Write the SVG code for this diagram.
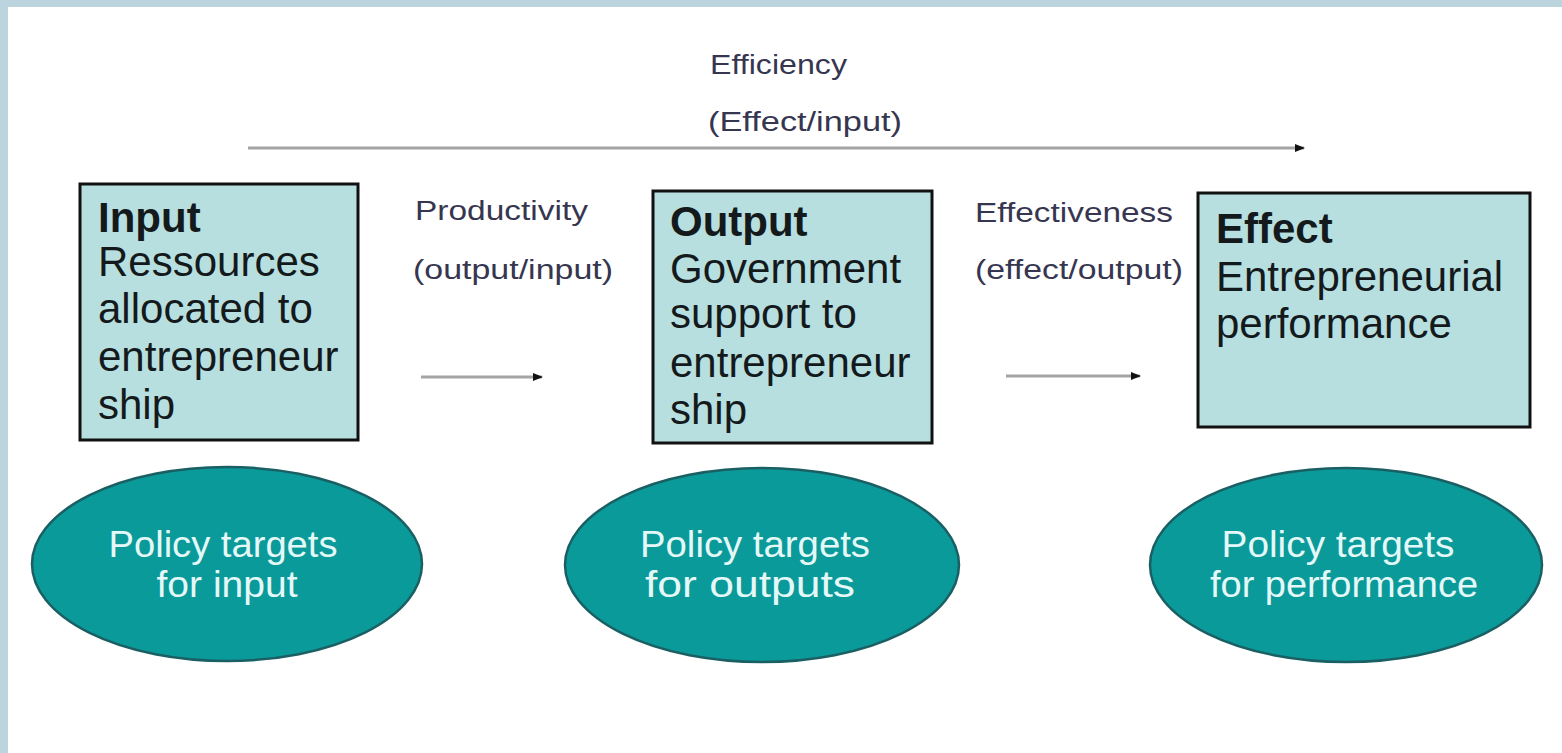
<svg xmlns="http://www.w3.org/2000/svg" width="1562" height="753" viewBox="0 0 1562 753">
<defs>
<marker id="ah" markerUnits="userSpaceOnUse" markerWidth="10" markerHeight="10" refX="9" refY="5" orient="auto">
<path d="M0,1 L10,5 L0,9 Z" fill="#111"/>
</marker>
<style>
.box{fill:#b8dfe0;stroke:#111;stroke-width:3}
.bt{font-family:"Liberation Sans",Arial,sans-serif;font-size:42px;fill:#141a1c}
.bb{font-weight:bold}
.ell{fill:#0b9a9a;stroke:#1a5f63;stroke-width:2.5}
.et{font-family:"Liberation Sans",Arial,sans-serif;font-size:37px;fill:#e4f8f8;text-anchor:middle}
.lt{font-family:"Liberation Sans",Arial,sans-serif;font-size:27px;fill:#363650}
.conn{stroke:#a4a4a4;stroke-width:3;fill:none}
</style>
</defs>
<rect x="0" y="0" width="1562" height="753" fill="#ffffff"/>
<rect x="0" y="0" width="1562" height="7" fill="#bcd4de"/>
<rect x="0" y="0" width="8" height="753" fill="#bcd4de"/>

<g id="connectors">
<line class="conn" x1="248" y1="148" x2="1304" y2="148" marker-end="url(#ah)"/>
<line class="conn" stroke-width="2" x1="421" y1="377" x2="542" y2="377" marker-end="url(#ah)"/>
<line class="conn" stroke-width="2" x1="1006" y1="376" x2="1140" y2="376" marker-end="url(#ah)"/>
</g>

<g id="labels">
<text class="lt" x="710" y="74" textLength="137" lengthAdjust="spacingAndGlyphs">Efficiency</text>
<text class="lt" x="708" y="131" textLength="194" lengthAdjust="spacingAndGlyphs">(Effect/input)</text>
<text class="lt" x="415" y="220" textLength="173" lengthAdjust="spacingAndGlyphs">Productivity</text>
<text class="lt" x="413" y="279" textLength="200" lengthAdjust="spacingAndGlyphs">(output/input)</text>
<text class="lt" x="975" y="222" textLength="198" lengthAdjust="spacingAndGlyphs">Effectiveness</text>
<text class="lt" x="975" y="279" textLength="208" lengthAdjust="spacingAndGlyphs">(effect/output)</text>
</g>

<g id="node-input">
<rect class="box" x="80" y="184" width="278" height="256"/>
<text class="bt bb" x="98" y="232">Input</text>
<text class="bt" x="98" y="276">Ressources</text>
<text class="bt" x="98" y="323">allocated to</text>
<text class="bt" x="98" y="371">entrepreneur</text>
<text class="bt" x="98" y="419">ship</text>
</g>

<g id="node-output">
<rect class="box" x="653" y="191" width="279" height="252"/>
<text class="bt bb" x="670" y="236">Output</text>
<text class="bt" x="670" y="283">Government</text>
<text class="bt" x="670" y="328">support to</text>
<text class="bt" x="670" y="377">entrepreneur</text>
<text class="bt" x="670" y="424">ship</text>
</g>

<g id="node-effect">
<rect class="box" x="1198" y="193" width="332" height="234"/>
<text class="bt bb" x="1216" y="243">Effect</text>
<text class="bt" x="1216" y="291">Entrepreneurial</text>
<text class="bt" x="1216" y="338">performance</text>
</g>

<g id="node-policy-input">
<ellipse class="ell" cx="227" cy="564" rx="195" ry="97"/>
<text class="et" x="223" y="557" textLength="229" lengthAdjust="spacingAndGlyphs">Policy targets</text>
<text class="et" x="227" y="597" textLength="141" lengthAdjust="spacingAndGlyphs">for input</text>
</g>

<g id="node-policy-outputs">
<ellipse class="ell" cx="762" cy="565" rx="197" ry="97"/>
<text class="et" x="755" y="557" textLength="230" lengthAdjust="spacingAndGlyphs">Policy targets</text>
<text class="et" x="750" y="597" textLength="210" lengthAdjust="spacingAndGlyphs">for outputs</text>
</g>

<g id="node-policy-performance">
<ellipse class="ell" cx="1346" cy="565" rx="196" ry="97"/>
<text class="et" x="1338" y="557" textLength="233" lengthAdjust="spacingAndGlyphs">Policy targets</text>
<text class="et" x="1344" y="597" textLength="268" lengthAdjust="spacingAndGlyphs">for performance</text>
</g>
</svg>
